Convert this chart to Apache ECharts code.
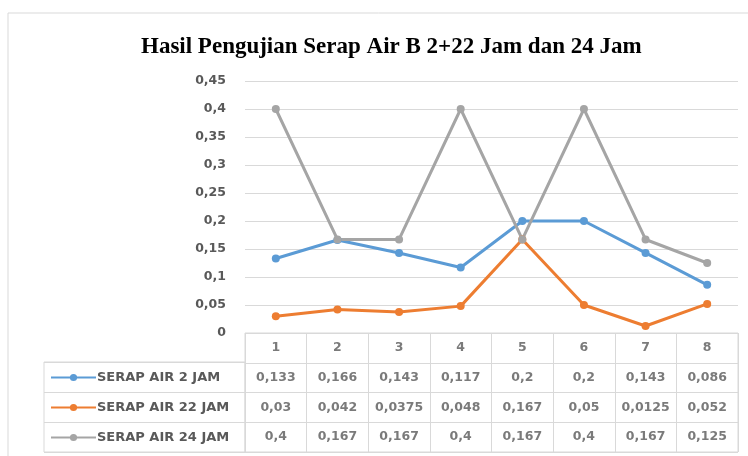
<!DOCTYPE html>
<html>
<head>
<meta charset="utf-8">
<script src="https://cdn.jsdelivr.net/npm/echarts@6/dist/echarts.min.js"></script>
<style>
  html, body { margin: 0; padding: 0; background: #fff; }
  #chart { width: 748px; height: 456px; }
</style>
</head>
<body>
<div id="chart"></div>
<script>
  // data
  const categories = ['1', '2', '3', '4', '5', '6', '7', '8'];
  const serapAir2 = [0.133, 0.166, 0.143, 0.117, 0.2, 0.2, 0.143, 0.086];
  const serapAir22 = [0.03, 0.042, 0.0375, 0.048, 0.167, 0.05, 0.0125, 0.052];
  const serapAir24 = [0.4, 0.167, 0.167, 0.4, 0.167, 0.4, 0.167, 0.125];
  const seriesNames = ['SERAP AIR 2 JAM', 'SERAP AIR 22 JAM', 'SERAP AIR 24 JAM'];
  const colors = ['#5B9BD5', '#ED7D31', '#A5A5A5'];

  const font = '"DejaVu Sans", sans-serif';
  const comma = (v) => String(v).replace('.', ',');

  let chart = echarts.init(document.getElementById('chart'));

  // cells of the data table under the plot
  const rowKeys = ['head', 'r1', 'r2', 'r3'];
  const allValues = [serapAir2, serapAir22, serapAir24];
  let tableCells = [];
  categories.forEach((c, i) => {
    tableCells.push([i, 'head', c]);
    allValues.forEach((vals, s) => {
      tableCells.push([i, rowKeys[s + 1], comma(vals[i])]);
    });
  });

  let lineSeries = allValues.map((vals, s) => ({
    type: 'line',
    name: seriesNames[s],
    xAxisIndex: 0,
    yAxisIndex: 0,
    data: vals,
    symbol: 'circle',
    symbolSize: 8,
    color: colors[s],
    lineStyle: { width: 3, color: colors[s] },
    itemStyle: { color: colors[s] }
  }));

  chart.setOption({
    animation: false,
    title: {
      text: 'Hasil Pengujian Serap Air B 2+22 Jam dan 24 Jam',
      left: 136,
      top: 31,
      textStyle: {
        fontFamily: '"Liberation Serif", "DejaVu Serif", serif',
        fontSize: 23,
        fontWeight: 'bold',
        color: '#000'
      }
    },
    graphic: [{
      type: 'rect',
      shape: { x: 8, y: 13, width: 800, height: 500 },
      style: { fill: 'none', stroke: '#d9d9d9', lineWidth: 1 },
      z: -10
    }],
    legend: {
      orient: 'vertical',
      left: 50,
      top: 370,
      height: 90,
      padding: 0,
      itemWidth: 45,
      itemHeight: 9,
      itemGap: 15,
      data: seriesNames,
      textStyle: { fontFamily: font, fontSize: 13, lineHeight: 15, color: '#595959', fontWeight: 'bold', padding: [0, 0, 0, -4] }
    },
    grid: [
      { left: 245, right: 10, top: 81, bottom: 123 },
      { left: 245, right: 10, top: 333, bottom: 4, show: true, borderColor: '#d9d9d9', borderWidth: 1 },
      { left: 44, width: 201, top: 362, bottom: 4, show: true, borderColor: '#d9d9d9', borderWidth: 1 }
    ],
    xAxis: [
      {
        gridIndex: 0, type: 'category', data: categories, boundaryGap: true,
        axisLine: { show: false }, axisTick: { show: false }, axisLabel: { show: false }
      },
      {
        gridIndex: 1, type: 'category', data: categories, boundaryGap: true,
        axisLine: { show: false }, axisTick: { show: false }, axisLabel: { show: false },
        splitLine: { show: true, lineStyle: { color: '#d9d9d9' } }
      },
      {
        gridIndex: 2, type: 'category', data: ['x'],
        axisLine: { show: false }, axisTick: { show: false }, axisLabel: { show: false }
      }
    ],
    yAxis: [
      {
        gridIndex: 0, type: 'value', min: 0, max: 0.45, interval: 0.05,
        axisLine: { show: false }, axisTick: { show: false },
        axisLabel: {
          margin: 19, fontFamily: font, fontSize: 12.5, fontWeight: 'bold', color: '#595959',
          formatter: (v) => comma(Math.round(v * 100) / 100)
        },
        splitLine: { lineStyle: { color: '#d9d9d9', width: 1 } }
      },
      {
        gridIndex: 1, type: 'category', data: rowKeys, inverse: true,
        axisLine: { show: false }, axisTick: { show: false }, axisLabel: { show: false },
        splitLine: { show: true, lineStyle: { color: '#d9d9d9' } }
      },
      {
        gridIndex: 2, type: 'category', data: ['r1', 'r2', 'r3'], inverse: true,
        axisLine: { show: false }, axisTick: { show: false }, axisLabel: { show: false },
        splitLine: { show: true, lineStyle: { color: '#d9d9d9' } }
      }
    ],
    series: [
      ...lineSeries,
      {
        type: 'scatter',
        name: 'table',
        xAxisIndex: 1,
        yAxisIndex: 1,
        data: tableCells,
        symbolSize: 1,
        itemStyle: { color: 'rgba(0,0,0,0)' },
        silent: true,
        label: {
          show: true,
          position: 'inside',
          formatter: (p) => p.data[2],
          fontFamily: font,
          fontSize: 12.5,
          fontWeight: 'bold',
          color: '#595959'
        }
      }
    ]
  });
</script>
</body>
</html>
